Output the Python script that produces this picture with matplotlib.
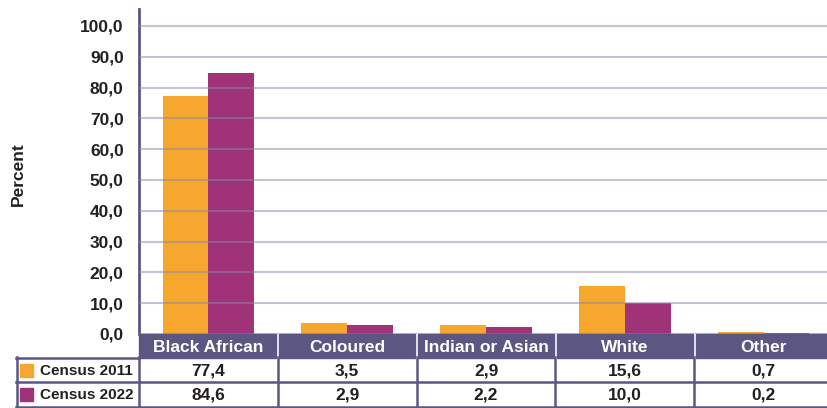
import matplotlib.pyplot as plt
from matplotlib.patches import Rectangle
from matplotlib.lines import Line2D
import numpy as np

# Data
categories = ['Black African', 'Coloured', 'Indian or Asian', 'White', 'Other']
census_2011 = [77.4, 3.5, 2.9, 15.6, 0.7]
census_2022 = [84.6, 2.9, 2.2, 10.0, 0.2]
series_names = ['Census 2011', 'Census 2022']
series_values = [census_2011, census_2022]
series_colors = ['#F7A72D', '#A03278']
yticks = np.arange(0, 101, 10)

plt.rcParams['font.family'] = ['Liberation Sans', 'DejaVu Sans']
dark = '#231F20'
frame = '#5B5682'

W, H = 827, 408
fig = plt.figure(figsize=(W / 100, H / 100), dpi=100)

# pixel helpers (origin top-left)
def fx(px):
    return px / W

def fy(py):
    return (H - py) / H

ax_left, ax_right, ax_top, ax_bottom = 139, 833, 9, 334
ax = fig.add_axes([fx(ax_left), fy(ax_bottom), (ax_right - ax_left) / W, (ax_bottom - ax_top) / H])

x = np.arange(len(categories))
bw = 0.33
ax.bar(x - bw / 2, census_2011, bw, color=series_colors[0], zorder=1)
ax.bar(x + bw / 2, census_2022, bw, color=series_colors[1], zorder=1)

ax.set_xlim(-0.5, len(categories) - 0.5)
ax.set_ylim(0, 105.5)
ax.set_yticks(yticks)
ax.set_yticklabels([f'{v:.1f}'.replace('.', ',') for v in yticks],
                   fontweight='bold', fontsize=12.5, color=dark)
ax.tick_params(axis='y', length=0, pad=11)
ax.set_xticks([])
for s in ['top', 'right', 'bottom']:
    ax.spines[s].set_visible(False)
ax.spines['left'].set_color(frame)
ax.spines['left'].set_linewidth(2)
ax.yaxis.grid(True, color='#8B86A8', alpha=0.5, linewidth=1.5)
ax.set_axisbelow(False)

fig.text(fx(18), fy(174), 'Percent', rotation=90, ha='center', va='center',
         fontsize=12.5, fontweight='bold', color=dark)

# Table below the chart
col_w = (ax_right - ax_left) / len(categories)
edges = [ax_left + i * col_w for i in range(len(categories) + 1)]
head_top, head_bot = 334, 358
row_tops = [358, 382]
row_h = 24

for i, cat in enumerate(categories):
    l = edges[i] + (1.5 if i > 0 else 0)
    r = edges[i + 1] - 1.5
    fig.patches.append(Rectangle((fx(l), fy(head_bot)), fx(r) - fx(l), fy(head_top) - fy(head_bot),
                                 transform=fig.transFigure, color=frame, zorder=3))
    fig.text(fx((edges[i] + edges[i + 1]) / 2), fy((head_top + head_bot) / 2 + 1), cat,
             ha='center', va='center', color='white', fontsize=12.5, fontweight='bold', zorder=4)

lw = 1.8
# horizontal lines
fig.add_artist(Line2D([fx(16), fx(ax_left)], [fy(357.5)] * 2, color=frame, lw=lw))
fig.add_artist(Line2D([fx(16), fx(W)], [fy(382)] * 2, color=frame, lw=lw))
fig.add_artist(Line2D([fx(16), fx(W)], [fy(406.5)] * 2, color=frame, lw=lw))
# vertical lines
for px in [16.8] + edges[:-1]:
    fig.add_artist(Line2D([fx(px)] * 2, [fy(357), fy(407)], color=frame, lw=lw))

for j, (name, vals, col) in enumerate(zip(series_names, series_values, series_colors)):
    top = row_tops[j]
    cy = top + row_h / 2
    fig.patches.append(Rectangle((fx(20), fy(top + 19)), 13 / W, 13 / H,
                                 transform=fig.transFigure, color=col, zorder=3))
    fig.text(fx(40), fy(cy + 1), name, ha='left', va='center', fontsize=11,
             fontweight='bold', color=dark)
    for i, v in enumerate(vals):
        fig.text(fx((edges[i] + edges[i + 1]) / 2), fy(cy + 1), f'{v:.1f}'.replace('.', ','),
                 ha='center', va='center', fontsize=12.5, fontweight='bold', color=dark)

fig.savefig('out.png', dpi=100)
